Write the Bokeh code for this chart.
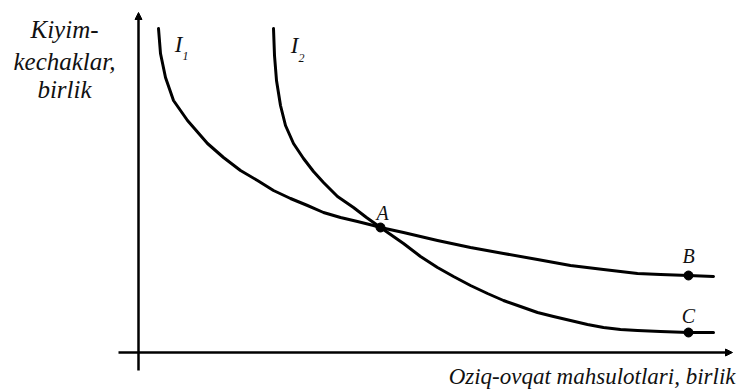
from bokeh.plotting import figure
from bokeh.models import Range1d, Label, Arrow, NormalHead
from bokeh.embed import file_html
from bokeh.resources import INLINE

# Indifference curve I1 (food, clothing)
i1_x = [20, 22, 27, 35, 49, 69, 85, 102, 119, 135, 152, 169, 185, 202, 219, 235, 242,
        265, 299, 332, 365, 399, 432, 465, 499, 522, 550, 575]
i1_y = [324, 299, 275, 252, 232, 209, 195, 182, 172, 162, 154, 147, 140, 135, 131, 127, 125,
        120, 112, 105, 99, 93, 87, 83, 79, 78, 77, 76]
# Indifference curve I2
i2_x = [135, 136, 138, 142, 147, 155, 165, 175, 185, 199, 215, 228, 242, 265, 282, 299,
        315, 332, 349, 365, 382, 399, 415, 432, 449, 465, 482, 499, 522, 550, 575]
i2_y = [324, 297, 272, 247, 227, 209, 194, 181, 170, 156, 145, 135, 125, 109, 96, 85,
        76, 67, 59, 52, 46, 40, 36, 32, 28, 25, 23, 22, 21, 20, 20]
# Marked points
pt_names = ["A", "B", "C"]
pt_x = [242, 550, 550]
pt_y = [125, 77, 20]

FONT = "Liberation Serif"

p = figure(width=741, height=392, output_backend="svg", toolbar_location=None,
           x_range=Range1d(-138, 603), y_range=Range1d(-40, 352), min_border=0)
p.axis.visible = False
p.grid.visible = False
p.outline_line_color = None
p.background_fill_color = "white"

# axes
p.add_layout(Arrow(end=NormalHead(size=7, fill_color="black", line_color="black"),
                   x_start=0, y_start=-18, x_end=0, y_end=340, line_width=2.5, line_color="black"))
p.add_layout(Arrow(end=NormalHead(size=7, fill_color="black", line_color="black"),
                   x_start=-20, y_start=0, x_end=594, y_end=0, line_width=2.5, line_color="black"))

p.line(i1_x, i1_y, line_width=3, line_color="black", line_join="round", line_cap="round")
p.line(i2_x, i2_y, line_width=3, line_color="black", line_join="round", line_cap="round")
p.scatter(pt_x, pt_y, size=9, color="black")

def lab(x, y, t, size=19, align="center", baseline="middle"):
    p.add_layout(Label(x=x, y=y, text=t, text_font=FONT, text_font_style="italic",
                       text_font_size=f"{size}px", text_align=align, text_baseline=baseline,
                       text_color="#111111"))

# curve labels
lab(40, 308, "I", 23)
lab(47, 297, "1", 12)
lab(156, 307, "I", 23)
lab(163, 295, "2", 12)
# point labels
lab(244, 140, pt_names[0], 20)
lab(550, 97, pt_names[1], 20)
lab(550, 37, pt_names[2], 20)

# axis titles
lab(-74, 323, "Kiyim-", 25, baseline="alphabetic")
lab(-74, 291, "kechaklar,", 25, baseline="alphabetic")
lab(-74, 263, "birlik", 25, baseline="alphabetic")
lab(597, -24, "Oziq-ovqat mahsulotlari, birlik", 23, align="right", baseline="alphabetic")

open("out.html", "w").write(file_html(p, INLINE))
